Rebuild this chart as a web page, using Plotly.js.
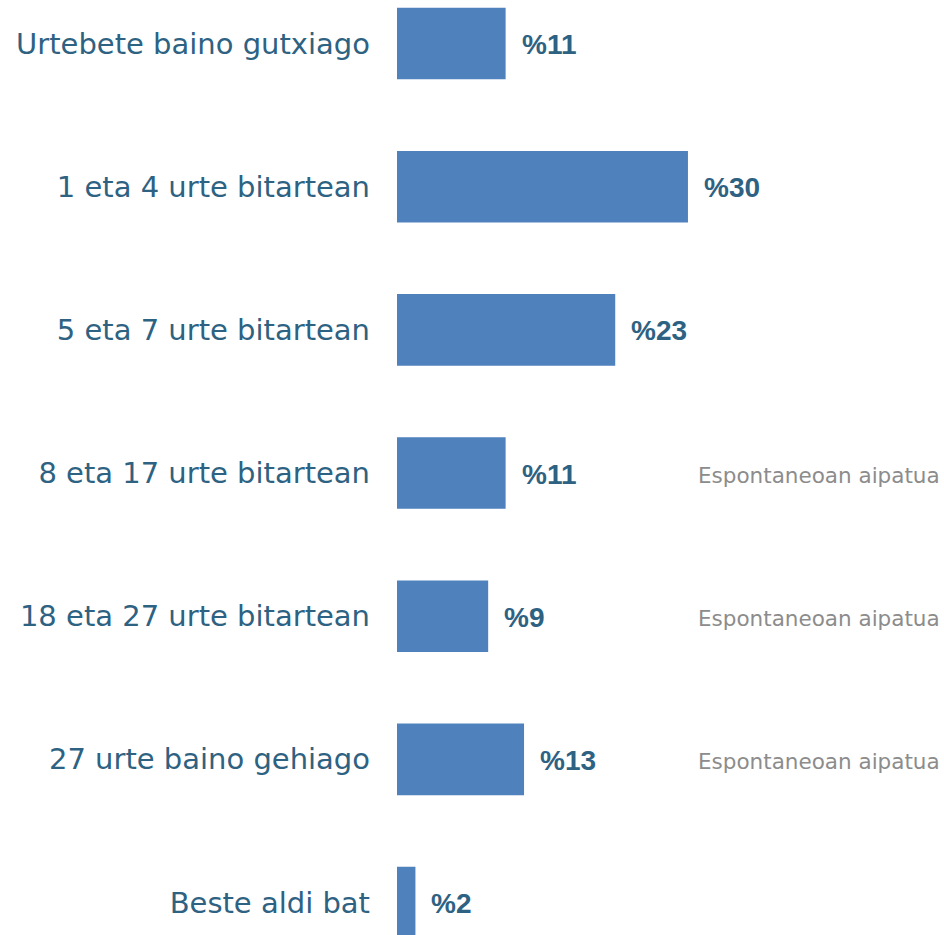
<!DOCTYPE html>
<html>
<head>
<meta charset="utf-8">
<script src="https://cdn.plot.ly/plotly-3.0.1.min.js"></script>
<style>html,body{margin:0;padding:0;background:#fff;}#chart{width:944px;height:935px;}</style>
</head>
<body>
<div id="chart"></div>
<script>
const categories = ["Urtebete baino gutxiago","1 eta 4 urte bitartean","5 eta 7 urte bitartean","8 eta 17 urte bitartean","18 eta 27 urte bitartean","27 urte baino gehiago","Beste aldi bat"];
const values = [11.2, 30.0, 22.5, 11.2, 9.4, 13.1, 1.9];
const valueLabels = ["%11","%30","%23","%11","%9","%13","%2"];
const notes = ["","","","Espontaneoan aipatua","Espontaneoan aipatua","Espontaneoan aipatua",""];

const font = "'DejaVu Sans', sans-serif";
const boldFont = "'Liberation Sans', Arial, sans-serif";
const labelColor = "#2e6282";

const trace = {
  type: "bar",
  orientation: "h",
  y: categories,
  x: values,
  width: 0.5,
  marker: {color: "#4f81bd"},
  hoverinfo: "none"
};

const annotations = [];
categories.forEach((c, i) => {
  annotations.push({
    x: values[i], y: c, xref: "x", yref: "y",
    text: "<b>" + valueLabels[i] + "</b>", showarrow: false,
    xanchor: "left", yanchor: "middle", xshift: 14, yshift: -1,
    font: {family: boldFont, size: 28, color: labelColor}
  });
  if (notes[i]) {
    annotations.push({
      x: 1, y: c, xref: "paper", yref: "y",
      text: notes[i], showarrow: false,
      xanchor: "right", yanchor: "middle", xshift: -2, yshift: -2,
      font: {family: font, size: 21.5, color: "#8c8c8c"}
    });
  }
});

const layout = {
  width: 944, height: 935,
  margin: {l: 397, r: 0, t: 0, b: 0, pad: 0},
  paper_bgcolor: "#fff", plot_bgcolor: "#fff",
  showlegend: false,
  xaxis: {range: [0, 56.4], visible: false, fixedrange: true},
  yaxis: {
    type: "category", range: [6.227, -0.304],
    showgrid: false, zeroline: false, showline: false,
    ticks: "", ticklabelstandoff: 26,
    tickfont: {family: font, size: 29, color: labelColor}
  },
  annotations: annotations
};

Plotly.newPlot("chart", [trace], layout, {displayModeBar: false, staticPlot: true});
</script>
</body>
</html>
